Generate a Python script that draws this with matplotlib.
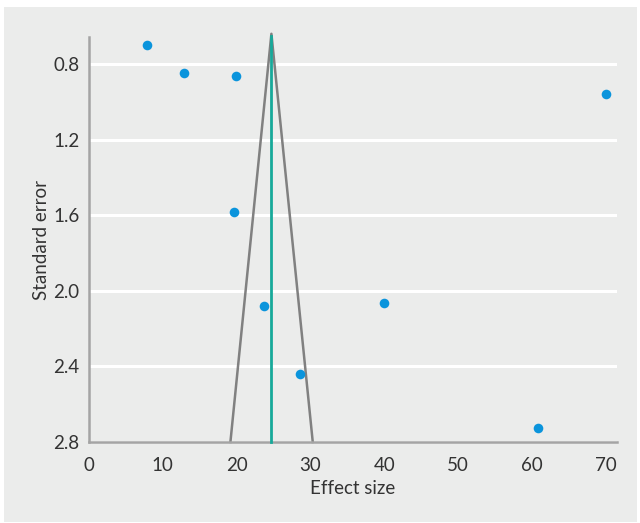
import matplotlib
matplotlib.use('Agg')
import matplotlib.pyplot as plt
from matplotlib.patches import Rectangle

# study points (effect size, standard error)
effect = [7.9, 12.9, 19.9, 19.7, 70.0, 23.7, 28.6, 40.0, 60.8]
se = [0.70, 0.85, 0.865, 1.585, 0.957, 2.08, 2.44, 2.067, 2.727]

# pooled estimate and funnel edges
pooled = 24.7
funnel_top = 0.64
funnel_bottom = 2.8
funnel_left = 19.15
funnel_right = 30.3

yticks = [0.8, 1.2, 1.6, 2.0, 2.4, 2.8]
xticks = [0, 10, 20, 30, 40, 50, 60, 70]

plt.rcParams['font.family'] = ['Lato', 'DejaVu Sans']
bg = '#ebeceb'
txt = '#333333'

fig = plt.figure(figsize=(6.4, 5.23), dpi=100, facecolor='white')
fig.add_artist(Rectangle((4 / 640, 1 / 523), 633 / 640, 515 / 523,
                         transform=fig.transFigure, facecolor=bg,
                         edgecolor='none', zorder=-10))
ax = fig.add_axes([89 / 640, 1 - 442 / 523, 528 / 640, 405 / 523])
ax.set_facecolor(bg)
ax.set_zorder(1)

ax.set_xlim(0, 71.5)
ax.set_ylim(2.8, 0.657)

# grid
for y in yticks:
    ax.axhline(y, color='white', lw=2.2, zorder=1)

# funnel
ax.plot([funnel_left, pooled, funnel_right], [funnel_bottom, funnel_top, funnel_bottom],
        color='#808080', lw=1.8, zorder=2, clip_on=False)
ax.plot([pooled, pooled], [funnel_bottom, funnel_top + 0.01], color='#17a99a', lw=2,
        zorder=3, clip_on=False)

ax.scatter(effect, se, s=48, color='#0a94dc', zorder=4, clip_on=False, linewidths=0)

for s in ['top', 'right']:
    ax.spines[s].set_visible(False)
for s in ['left', 'bottom']:
    ax.spines[s].set_color('#a4a4a4')
    ax.spines[s].set_linewidth(1.8)

ax.set_xticks(xticks)
ax.set_yticks(yticks)
ax.set_yticklabels(['%.1f' % v for v in yticks])
ax.tick_params(length=0, labelsize=13.5, colors=txt)
ax.tick_params(axis='y', pad=7)
ax.tick_params(axis='x', pad=11)

ax.set_xlabel('Effect size', fontsize=13.5, color=txt, labelpad=4)
ax.set_ylabel('Standard error', fontsize=13.5, color=txt, labelpad=2)

fig.savefig('out.png', dpi=100, facecolor='white')
